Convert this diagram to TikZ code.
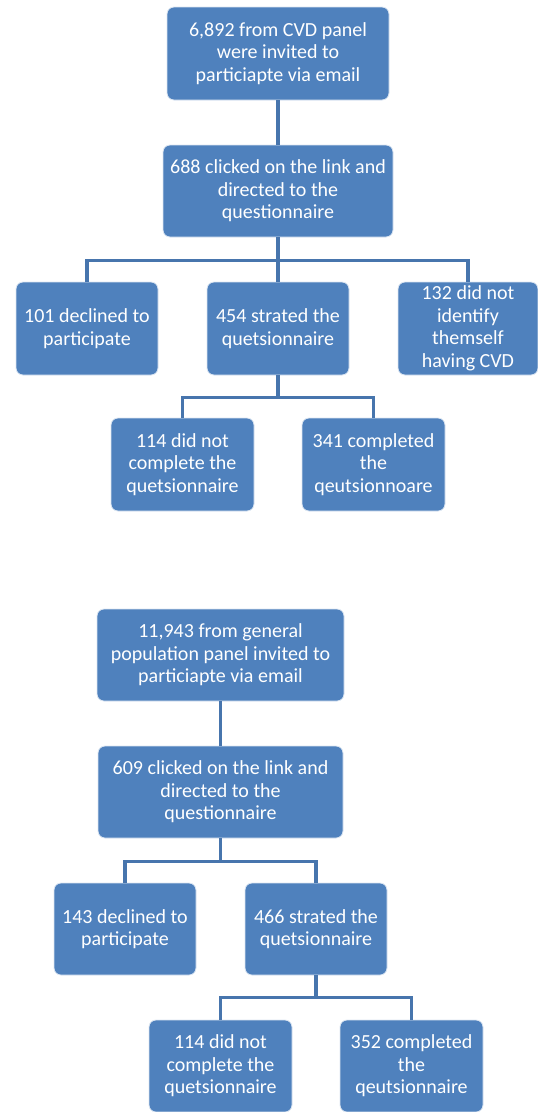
\documentclass[tikz,border=0pt]{standalone}
\usepackage{fontspec}
\setmainfont{Carlito}
\usetikzlibrary{positioning}
\definecolor{boxblue}{HTML}{4F81BD}
\definecolor{linkblue}{HTML}{4775AD}

\begin{document}
\begin{tikzpicture}[x=1pt, y=-1pt,
  box/.style={fill=boxblue, draw=white!80!boxblue, line width=0.8pt, rounded corners=7pt, text=white, align=center, inner sep=0pt, font=\fontsize{20}{22.5}\selectfont},
  link/.style={linkblue, line width=3.5pt}]
\useasboundingbox (0,0) rectangle (538,1112);
% first panel
\node[box, minimum width=222pt, minimum height=93pt] (inv1) at (278,53.5) {6,892 from CVD panel\\were invited to\\particiapte via email};
\node[box, minimum width=230pt, minimum height=92pt] (clk1) at (278,191) {688 clicked on the link and\\directed to the\\questionnaire};
\node[box, minimum width=142pt, minimum height=93pt] (dec1) at (87,328.5) {101 declined to\\participate};
\node[box, minimum width=142pt, minimum height=93pt] (str1) at (278,328.5) {454 strated the\\quetsionnaire};
\node[box, minimum width=140pt, minimum height=93pt] (idn1) at (468,328.5) {132 did not\\identify\\themself\\having CVD};
\node[box, minimum width=143pt, minimum height=93pt] (inc1) at (182.5,464.5) {114 did not\\complete the\\quetsionnaire};
\node[box, minimum width=143pt, minimum height=93pt] (cmp1) at (373.5,464.5) {341 completed\\the\\qeutsionnoare};
\draw[link] (inv1.south) -- (clk1.north);
\draw[link] (clk1.south) -- ++(0,23) coordinate (j1);
\draw[link] (j1) -| (dec1.north);
\draw[link] (j1) -| (idn1.north);
\draw[link] (j1) -- (str1.north);
\draw[link] (str1.south) -- ++(0,22) coordinate (j2);
\draw[link] (j2) -| (inc1.north);
\draw[link] (j2) -| (cmp1.north);
% second panel
\node[box, minimum width=247pt, minimum height=92pt] (inv2) at (220.5,655) {11,943 from general\\population panel invited to\\particiapte via email};
\node[box, minimum width=245pt, minimum height=92pt] (clk2) at (220.5,792) {609 clicked on the link and\\directed to the\\questionnaire};
\node[box, minimum width=142pt, minimum height=92pt] (dec2) at (125,929) {143 declined to\\participate};
\node[box, minimum width=142pt, minimum height=92pt] (str2) at (316,929) {466 strated the\\quetsionnaire};
\node[box, minimum width=143pt, minimum height=92pt] (inc2) at (220.5,1066) {114 did not\\complete the\\quetsionnaire};
\node[box, minimum width=143pt, minimum height=92pt] (cmp2) at (411.5,1066) {352 completed\\the\\qeutsionnaire};
\draw[link] (inv2.south) -- (clk2.north);
\draw[link] (clk2.south) -- ++(0,23) coordinate (j3);
\draw[link] (j3) -| (dec2.north);
\draw[link] (j3) -| (str2.north);
\draw[link] (str2.south) -- ++(0,22) coordinate (j4);
\draw[link] (j4) -| (inc2.north);
\draw[link] (j4) -| (cmp2.north);
\end{tikzpicture}
\end{document}
